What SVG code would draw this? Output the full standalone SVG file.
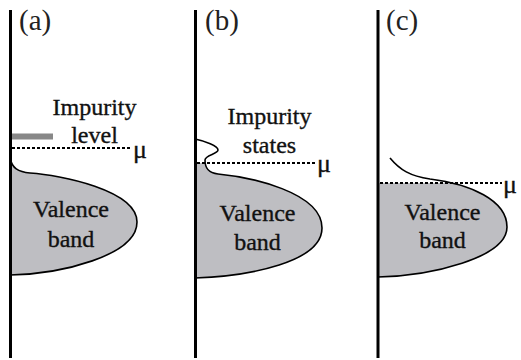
<svg xmlns="http://www.w3.org/2000/svg" width="521" height="360" viewBox="0 0 521 360">
<style>
.axis{stroke:#000;stroke-width:3;fill:none}
.band{fill:#bebec2;stroke:none}
.edge{fill:none;stroke:#000;stroke-width:1.6}
.dash{stroke:#000;stroke-width:2;stroke-dasharray:3 2;fill:none}
text{font-family:'Liberation Serif','Times New Roman','DejaVu Serif',serif;stroke:#111;stroke-width:0.35}
.t{font-size:24px;fill:#111;text-anchor:middle}
.mu{font-size:26px;fill:#111}
.lbl{font-size:29px;fill:#222;stroke:none}
</style>
<defs>
<clipPath id="cb"><rect x="0" y="163" width="521" height="200"/></clipPath>
<clipPath id="cc"><rect x="0" y="183" width="521" height="200"/></clipPath>
</defs>
<rect width="521" height="360" fill="#fff"/>

<g id="panel-a">
<path class="band" d="M10,158 C12,168 18,172 30,173 C60,175 137,190 137,222 C137,256 60,274 10,275 Z"/>
<path class="edge" d="M10,158 C12,168 18,172 30,173 C60,175 137,190 137,222 C137,256 60,274 10,275"/>
<line class="axis" x1="10.5" y1="10" x2="10.5" y2="358"/>
<text class="lbl" x="19" y="30">(a)</text>
<line x1="12" y1="136.5" x2="53" y2="136.5" stroke="#888" stroke-width="6"/>
<line class="dash" x1="12" y1="148" x2="132" y2="148"/>
<text class="mu" x="133" y="158">μ</text>
<text class="t" x="94.5" y="115">Impurity</text>
<text class="t" x="94.5" y="143">level</text>
<text class="t" x="71" y="217">Valence</text>
<text class="t" x="71" y="247">band</text>
</g>

<g id="panel-b">
<path class="band" clip-path="url(#cb)" d="M195,139 C205,141 218,146 218,150 C218,154 205,155 205,160 C205,168 208,173 218,174 C250,177 322,192 322,228 C322,262 250,276 195,278 Z"/>
<path class="edge" d="M195,139 C205,141 218,146 218,150 C218,154 205,155 205,160 C205,168 208,173 218,174 C250,177 322,192 322,228 C322,262 250,276 195,278"/>
<line class="axis" x1="195.5" y1="10" x2="195.5" y2="358"/>
<text class="lbl" x="205" y="30">(b)</text>
<line class="dash" x1="197" y1="163" x2="316" y2="163"/>
<text class="mu" x="317" y="172">μ</text>
<text class="t" x="269.5" y="124">Impurity</text>
<text class="t" x="269.5" y="153">states</text>
<text class="t" x="257.5" y="221">Valence</text>
<text class="t" x="257.5" y="250">band</text>
</g>

<g id="panel-c">
<path class="band" clip-path="url(#cc)" d="M390,158 C400,170 410,176 430,179 C470,184 507,200 507,227 C507,258 430,276 378,277 L378,158 Z"/>
<path class="edge" d="M390,158 C400,170 410,176 430,179 C470,184 507,200 507,227 C507,258 430,276 378,277"/>
<line class="axis" x1="378" y1="10" x2="378" y2="358"/>
<text class="lbl" x="386" y="30">(c)</text>
<line class="dash" x1="380" y1="183" x2="502" y2="183"/>
<text class="mu" x="503" y="193">μ</text>
<text class="t" x="442.5" y="220">Valence</text>
<text class="t" x="442.5" y="248">band</text>
</g>
</svg>
